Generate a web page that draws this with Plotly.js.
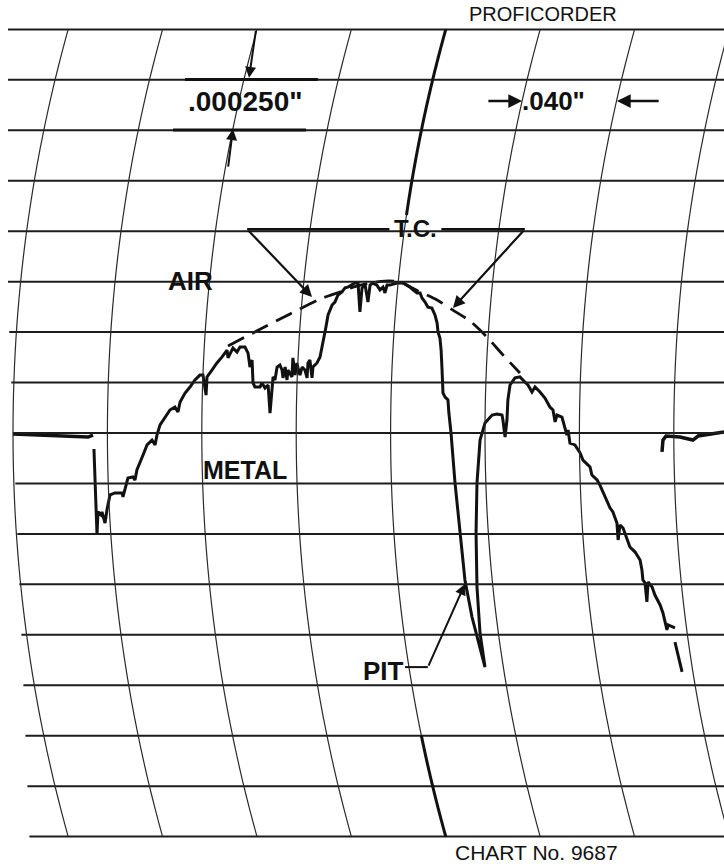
<!DOCTYPE html>
<html>
<head>
<meta charset="utf-8">
<script src="https://cdn.plot.ly/plotly-3.0.1.min.js"></script>
<style>
  html, body { margin: 0; padding: 0; background: #fff; }
  #chart { width: 724px; height: 867px; }
</style>
</head>
<body>
<div id="chart"></div>
<script>
// Proficorder surface trace. x in mils (0.001 in), y in microinches.

// flat reference run before the part
const baseLeftX = [0, 11.4, 24.2, 31.8, 33.9];
const baseLeftY = [-5, -10, -15, -20, -10];

// profile across the part, including the pit
const profileX = [34.3,35.2,35.6,36.0,37.3,37.7,39.0,39.8,41.1,43.2,
  46.2,46.6,47.5,48.7,50.8,51.7,52.5,53.8,55.1,56.8,
  58.9,60.2,61.0,62.3,64.4,66.5,68.6,69.9,70.8,72.9,
  75.0,77.1,79.2,80.5,81.8,82.2,84.3,86.4,88.6,90.7,
  91.1,93.2,94.9,96.2,98.3,99.6,100.4,101.3,101.7,102.5,
  104.7,105.5,106.8,108.1,108.9,109.7,110.2,111.0,111.9,113.1,
  114.0,114.4,115.3,116.1,116.5,118.2,118.6,119.5,120.3,120.8,
  121.6,122.5,123.7,124.6,125.0,125.8,126.7,127.1,128.8,130.1,
  131.4,132.6,133.5,135.2,136.4,137.7,139.4,140.7,141.9,143.6,
  144.9,146.2,147.0,147.9,149.2,150.4,151.3,152.5,154.2,155.5,
  156.8,157.6,158.5,159.7,162.7,165.3,166.9,168.2,169.5,171.2,
  172.5,173.3,174.6,175.8,177.5,178.8,179.7,180.1,180.9,181.4,
  181.8,182.2,183.1,184.3,184.7,185.6,187.3,189.4,191.5,194.5,
  197.0,200.0,
  197.9,196.6,196.2,196.6,197.9,200.0,203.0,205.1,207.2,207.6,
  208.5,209.3,209.7,210.6,212.7,214.8,216.9,218.2,219.9,221.2,
  223.3,225.4,227.5,228.8,229.7,230.5,232.6,233.9,234.7,235.2,
  236.0,238.1,240.3,241.5,244.5,245.3,247.5,248.7,250.0,252.1,
  253.0,254.2,255.9,256.4,257.2,258.5,260.2,261.4,263.6,265.7,
  266.5,266.9,267.8,268.6,269.1,270.8,272.0,274.2,275.4,277.1,
  277.5,279.2,280.5];
const profileY = [-79,-332,-505,-391,-406,-391,-446,-382,-307,-297,
  -297,-317,-282,-223,-218,-233,-183,-149,-109,-59,
  -35,-59,-10,40,79,114,129,104,154,198,
  228,263,287,287,188,278,312,347,377,411,
  372,421,401,426,426,396,327,362,248,228,
  228,248,223,238,99,213,278,263,327,337,
  312,273,327,263,312,278,372,287,347,322,
  287,327,312,273,347,362,273,327,347,377,
  446,525,585,634,649,684,699,719,723,733,
  743,743,600,719,733,649,733,743,733,709,
  723,694,733,733,743,743,733,723,709,694,
  694,669,649,624,619,585,545,500,471,411,
  312,198,178,164,99,0,-248,-496,-728,-912,
  -1026,-1160,
  -991,-763,-496,-248,-35,50,89,94,89,64,
  -20,64,164,238,273,278,253,238,203,228,
  203,173,129,114,55,89,79,30,-10,15,
  -50,-59,-99,-134,-168,-208,-233,-258,-292,-347,
  -372,-391,-446,-530,-456,-471,-530,-565,-590,-629,
  -679,-728,-743,-837,-738,-763,-803,-852,-892,-976,
  -951,-961,-966];

// last stroke of the pen before lift-off
const tailX = [280.5, 283.5];
const tailY = [-1036, -1184];

// flat reference run after the part
const baseRightX = [275.0, 275.4, 276.7, 282.6, 288.1, 290.3, 301.3];
const baseRightY = [-94, -35, -15, -20, -35, -15, 5];

// true contour (T.C.) sketched over the profile
const contourX = [91.1,101.7,117.4,130.1,138.6,144.1,151.3,157.6,164.0,171.6,179.7,186.4,193.6,200.8,207.6,214.8];
const contourY = [431,496,590,664,699,723,743,753,748,704,659,609,555,476,387,297];

// chart paper: 0.040" per arc division, 250 microinches per line
const MIL_DIV = 40, UIN_DIV = 250;
const PX_PER_MIL = 2.36, PX_PER_UIN = 0.2018;
const ARM_R = 1504;            // pen arm radius, px
const X_RANGE = [-5.51, 301.27];
const Y_RANGE = [-2150.6, 2145.7];

const INK = '#111';
const shapes = [];

// horizontal chart lines
for (let k = -8; k <= 8; k++) {
  const y = k * UIN_DIV;
  const x0 = -2.12 + Math.max(0, 2.25 - 0.00342 * y);
  shapes.push({type: 'line', xref: 'x', yref: 'y', x0: x0, x1: 310, y0: y, y1: y,
    line: {color: '#1c1c1c', width: 2}});
}

// curved time lines traced by the pen arm
function arcPath(k, yFrom, yTo) {
  const pts = [];
  const n = 60;
  for (let i = 0; i <= n; i++) {
    const y = yFrom + (yTo - yFrom) * i / n;
    const dy = y * PX_PER_UIN;
    const off = (ARM_R - Math.sqrt(ARM_R * ARM_R - dy * dy)) / PX_PER_MIL;
    pts.push((i ? 'L' : 'M') + (k * MIL_DIV + off).toFixed(2) + ',' + y.toFixed(1));
  }
  return pts.join(' ');
}
for (let k = 0; k <= 8; k++) {
  shapes.push({type: 'path', xref: 'x', yref: 'y', path: arcPath(k, 2000, -2000),
    line: {color: '#2a2a2a', width: 1.2}});
}
// heavy centre line of the chart
shapes.push({type: 'path', xref: 'x', yref: 'y', path: arcPath(4, 2000, 1080), line: {color: INK, width: 3}});
shapes.push({type: 'path', xref: 'x', yref: 'y', path: arcPath(4, -1500, -2000), line: {color: INK, width: 3}});

// scale marks
shapes.push({type: 'line', xref: 'x', yref: 'y', x0: 72.9, x1: 129.2, y0: 1752, y1: 1752, line: {color: INK, width: 3}});
shapes.push({type: 'line', xref: 'x', yref: 'y', x0: 67.8, x1: 124.2, y0: 1502, y1: 1502, line: {color: INK, width: 3}});

// T.C. bar
shapes.push({type: 'line', xref: 'x', yref: 'y', x0: 99.2, x1: 159.5, y0: 1010, y1: 1010, line: {color: INK, width: 2.5}});
shapes.push({type: 'line', xref: 'x', yref: 'y', x0: 181.5, x1: 216.9, y0: 1010, y1: 1010, line: {color: INK, width: 2.5}});

// PIT leader
shapes.push({type: 'line', xref: 'x', yref: 'y', x0: 166.1, x1: 175.8, y0: -1160, y1: -1160, line: {color: INK, width: 2}});

function arrow(x0, y0, x1, y1, w) {
  return {x: x1, y: y1, ax: x0, ay: y0, xref: 'x', yref: 'y', axref: 'x', ayref: 'y',
    text: '', showarrow: true, arrowhead: 2, arrowsize: 1.1, arrowwidth: w || 2,
    arrowcolor: INK, standoff: 0, startstandoff: 0};
}
function label(txt, x, y, size, bold) {
  return {x: x, y: y, xref: 'x', yref: 'y', text: bold ? '<b>' + txt + '</b>' : txt,
    showarrow: false, xanchor: 'center', yanchor: 'middle',
    font: {family: 'Liberation Sans, Arial, sans-serif', size: size, color: INK}};
}

const annotations = [
  label('PROFICORDER', 224.6, 2076, 20, false),
  label('.000250"', 98.7, 1645, 28, true),
  label('.040"', 229.0, 1645, 26, true),
  label('AIR', 75.4, 753, 26, true),
  label('METAL', 98.3, -183, 25, true),
  label('T.C.', 170.5, 1011, 24, true),
  label('PIT', 156.8, -1179, 26, true),
  label('CHART No. 9687', 222.0, -2081, 21, false),
  arrow(103.0, 2000, 100.0, 1760, 2),
  arrow(91.1, 1313, 93.2, 1506, 2),
  arrow(200.8, 1645, 215.7, 1645, 2.5),
  arrow(274.2, 1645, 255.9, 1645, 2.5),
  arrow(99.2, 1010, 126.7, 674, 2.2),
  arrow(216.9, 1010, 186.4, 619, 2.2),
  arrow(175.8, -1160, 191.5, -748, 2)
];

const traceLine = {color: INK, width: 3};
const data = [
  {x: baseLeftX, y: baseLeftY, mode: 'lines', line: {color: INK, width: 3.5}, hoverinfo: 'skip'},
  {x: profileX, y: profileY, mode: 'lines', line: traceLine, hoverinfo: 'skip'},
  {x: tailX, y: tailY, mode: 'lines', line: traceLine, hoverinfo: 'skip'},
  {x: baseRightX, y: baseRightY, mode: 'lines', line: {color: INK, width: 3.5}, hoverinfo: 'skip'},
  {x: contourX, y: contourY, mode: 'lines', line: {color: INK, width: 2.8, dash: '18px,9px', shape: 'spline', smoothing: 0.8}, hoverinfo: 'skip'}
];

const layout = {
  width: 724, height: 867,
  margin: {l: 0, r: 0, t: 0, b: 0},
  paper_bgcolor: '#fff', plot_bgcolor: '#fff',
  showlegend: false,
  xaxis: {range: X_RANGE, visible: false, fixedrange: true},
  yaxis: {range: Y_RANGE, visible: false, fixedrange: true},
  shapes: shapes,
  annotations: annotations
};

Plotly.newPlot('chart', data, layout, {staticPlot: true, displayModeBar: false});
</script>
</body>
</html>
